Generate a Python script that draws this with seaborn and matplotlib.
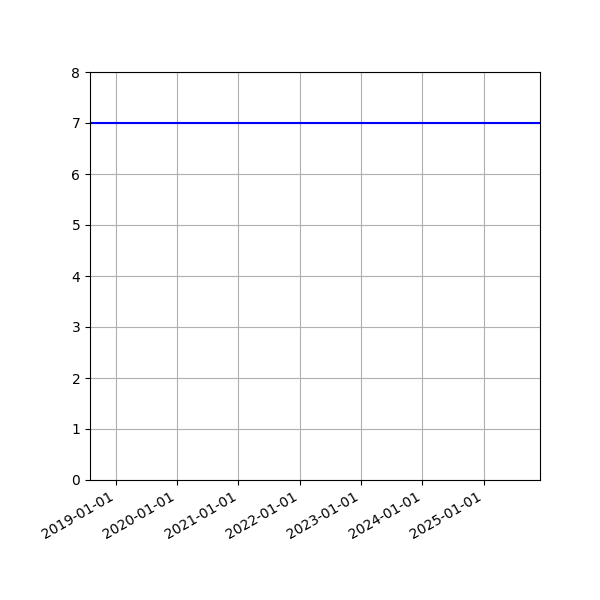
import matplotlib
matplotlib.use("Agg")
import matplotlib.pyplot as plt
import matplotlib.dates as mdates
import seaborn as sns
import pandas as pd

dates = ["2018-08-01", "2025-12-01"]
values = [7, 7]

df = pd.DataFrame({"date": pd.to_datetime(dates), "value": values})

fig, ax = plt.subplots(figsize=(6, 6), dpi=100)
sns.lineplot(data=df, x="date", y="value", color="blue", linewidth=1.5, ax=ax)
ax.set_xlim(df["date"].min(), df["date"].max())
ax.set_ylim(0, 8)
ax.xaxis.set_major_locator(mdates.YearLocator())
ax.xaxis.set_major_formatter(mdates.DateFormatter("%Y-%m-%d"))
ax.grid(True, color="#b0b0b0", linewidth=0.8)
ax.set_axisbelow(True)
ax.set_xlabel("")
ax.set_ylabel("")
fig.autofmt_xdate()
fig.subplots_adjust(left=0.15, right=0.9, top=0.88, bottom=0.2)
fig.savefig("out.png", dpi=100)
